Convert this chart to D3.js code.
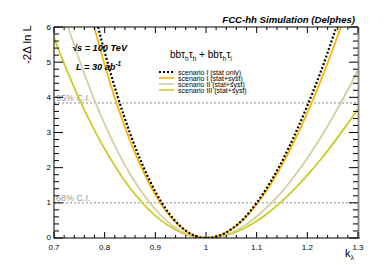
<!DOCTYPE html>
<html><head><meta charset="utf-8">
<script src="https://cdn.jsdelivr.net/npm/d3@7"></script>
<style>
html,body{margin:0;padding:0;background:#fff;}
svg{display:block;font-family:"Liberation Sans",Arial,Helvetica,sans-serif;}
</style></head>
<body><svg id="c" width="390" height="265"></svg>
<script>
const kappa = [0.7,0.725,0.75,0.775,0.8,0.825,0.85,0.875,0.9,0.925,0.95,0.975,1.0,1.025,1.05,1.075,1.1,1.125,1.15,1.175,1.2,1.225,1.25,1.275,1.3];
const statOnly   = [11.9,10.0,8.27,6.70,5.29,4.05,2.98,2.07,1.32,0.74,0.33,0.08,0,0.06,0.25,0.56,1.00,1.54,2.18,2.93,3.76,4.67,5.69,6.77,7.92];
const scen1Syst  = [11.09,9.32,7.70,6.24,4.93,3.77,2.77,1.93,1.23,0.69,0.31,0.08,0,0.06,0.24,0.54,0.96,1.47,2.08,2.78,3.56,4.42,5.36,6.36,7.42];
const scen2Syst  = [7.29,6.13,5.06,4.10,3.24,2.48,1.82,1.27,0.81,0.46,0.20,0.05,0,0.04,0.15,0.34,0.61,0.94,1.32,1.77,2.27,2.83,3.43,4.08,4.77];
const scen3Syst  = [5.69,4.78,3.95,3.20,2.53,1.94,1.42,0.99,0.63,0.36,0.16,0.04,0,0.03,0.12,0.27,0.48,0.74,1.05,1.40,1.79,2.21,2.67,3.16,3.67];
const seriesNames = ["scenario I (stat only)","scenario I (stat+syst)","scenario II (stat+syst)","scenario III (stat+syst)"];
const xTicks = [0.7,0.8,0.9,1.0,1.1,1.2,1.3];
const xTickLabels = ["0.7","0.8","0.9","1","1.1","1.2","1.3"];
const yTicks = [0,1,2,3,4,5,6];
const ciLevels = [1.0, 3.84];
const ciLabels = ["68% C.I.","95% C.I."];

const series = [
  {name:seriesNames[0], v:statOnly,  color:"#000000", dash:"2,2"},
  {name:seriesNames[1], v:scen1Syst, color:"#ffb400", dash:null},
  {name:seriesNames[2], v:scen2Syst, color:"#d2d0a0", dash:null},
  {name:seriesNames[3], v:scen3Syst, color:"#cccc2a", dash:null}
];
const drawOrder = [3,2,1,0];

const svg = d3.select("#c");
const L=54, R=358, T=27, B=238;
const x = d3.scaleLinear().domain([0.7,1.3]).range([L,R]);
const y = d3.scaleLinear().domain([0,6]).range([B,T]);

svg.append("clipPath").attr("id","clip").append("rect")
  .attr("x",L).attr("y",T).attr("width",R-L).attr("height",B-T);

const ciG = svg.append("g");
ciLevels.forEach((lv,i)=>{
  ciG.append("line").attr("x1",L).attr("x2",R).attr("y1",y(lv)).attr("y2",y(lv))
    .attr("stroke","#8a8a8a").attr("stroke-width",1).attr("stroke-dasharray","2,2");
  ciG.append("text").attr("x",L+2).attr("y",y(lv)-1.5).text(ciLabels[i])
    .attr("font-size",9).attr("fill","#9a9a9a");
});

const line = d3.line().x((d,i)=>x(kappa[i])).y(d=>y(d)).curve(d3.curveMonotoneX);
const cg = svg.append("g").attr("clip-path","url(#clip)");
drawOrder.forEach(j=>{
  const s=series[j];
  cg.append("path").attr("d",line(s.v)).attr("fill","none")
    .attr("stroke",s.color).attr("stroke-width",s.dash?2.2:1.8)
    .attr("stroke-dasharray",s.dash);
});

const xMinor = d3.range(0.7,1.3001,0.02);
const yMinor = d3.range(0,6.001,0.2);
const ax = svg.append("g").attr("stroke","#000").attr("stroke-width",1);
ax.append("line").attr("x1",L).attr("x2",L).attr("y1",T).attr("y2",B);
ax.append("line").attr("x1",L).attr("x2",R).attr("y1",T).attr("y2",T);
ax.append("line").attr("x1",L).attr("x2",R+2).attr("y1",B).attr("y2",B);
ax.append("line").attr("x1",R+0.5).attr("x2",R+0.5).attr("y1",T).attr("y2",B)
  .attr("stroke","#8c8c8c").attr("stroke-width",2);
xMinor.forEach(v=>{
  const isMaj = xTicks.some(t=>Math.abs(t-v)<1e-6);
  const len = isMaj?6:3;
  ax.append("line").attr("x1",x(v)).attr("x2",x(v)).attr("y1",B).attr("y2",B-len);
  ax.append("line").attr("x1",x(v)).attr("x2",x(v)).attr("y1",T).attr("y2",T+len);
});
yMinor.forEach(v=>{
  const isMaj = yTicks.some(t=>Math.abs(t-v)<1e-6);
  const len = isMaj?9:5;
  ax.append("line").attr("y1",y(v)).attr("y2",y(v)).attr("x1",L).attr("x2",L+len);
  ax.append("line").attr("y1",y(v)).attr("y2",y(v)).attr("x1",R).attr("x2",R-len);
});
const lab = svg.append("g").attr("font-size",8).attr("fill","#000");
xTicks.forEach((t,i)=>{
  lab.append("text").attr("x",x(t)).attr("y",B+11.5).attr("text-anchor","middle").text(xTickLabels[i]);
});
yTicks.forEach(t=>{
  lab.append("text").attr("x",L-3).attr("y",y(t)+(t===0?1.5:2.5)).attr("text-anchor","end").text(t);
});

svg.append("text").attr("transform","translate(31,25) rotate(-90)").attr("text-anchor","end")
  .attr("font-size",11.5).text("-2\u0394 ln L");
const kt = svg.append("text").attr("x",345).attr("y",257).attr("font-size",11);
kt.append("tspan").text("k");
kt.append("tspan").attr("font-size",7).attr("dy",3).text("\u03bb");

svg.append("text").attr("x",355).attr("y",23).attr("text-anchor","end")
  .attr("font-size",9.6).attr("font-weight","bold").attr("font-style","italic")
  .text("FCC-hh Simulation (Delphes)");
const sq = svg.append("text").attr("x",72).attr("y",51).attr("font-size",9.2)
  .attr("font-weight","bold").attr("font-style","italic");
sq.append("tspan").text("\u221as = 100 TeV");
const lum = svg.append("text").attr("x",76).attr("y",70).attr("font-size",9.2)
  .attr("font-weight","bold").attr("font-style","italic");
lum.append("tspan").text("L = 30 ab");
lum.append("tspan").attr("font-size",6.5).attr("dy",-4).text("-1");

const ch = svg.append("text").attr("x",170).attr("y",58).attr("font-size",10);
ch.append("tspan").text("bb\u03c4");
ch.append("tspan").attr("font-size",6.5).attr("dy",2.5).text("h");
ch.append("tspan").attr("dy",-2.5).text("\u03c4");
ch.append("tspan").attr("font-size",6.5).attr("dy",2.5).text("h");
ch.append("tspan").attr("dy",-2.5).text(" + bb\u03c4");
ch.append("tspan").attr("font-size",6.5).attr("dy",2.5).text("h");
ch.append("tspan").attr("dy",-2.5).text("\u03c4");
ch.append("tspan").attr("font-size",6.5).attr("dy",2.5).text("l");

const lg = svg.append("g");
series.forEach((s,i)=>{
  const yy = 72 + i*6;
  lg.append("line").attr("x1",159).attr("x2",174).attr("y1",yy).attr("y2",yy)
    .attr("stroke",s.color).attr("stroke-width",s.dash?2:1.6).attr("stroke-dasharray",s.dash);
  lg.append("text").attr("x",178).attr("y",yy+2.5).attr("font-size",7).text(s.name);
});
</script></body></html>
